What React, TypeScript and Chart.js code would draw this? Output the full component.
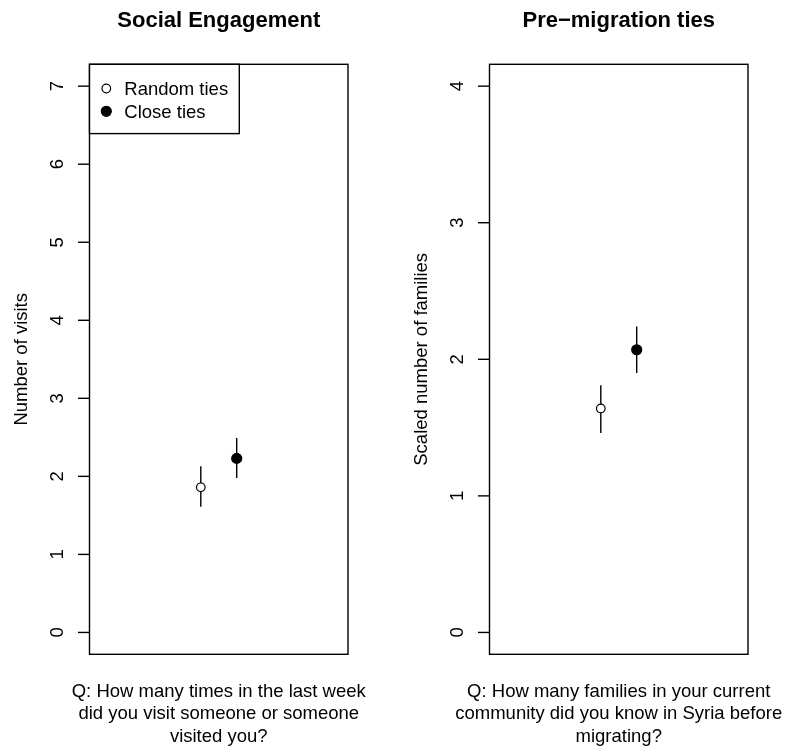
import React, { useEffect, useRef } from "react";
import { Chart, registerables } from "chart.js";

Chart.register(...registerables);

// ---------- data ----------
const SERIES = ["Random ties", "Close ties"];
const GROUP_X = [1, 2];

const ENG_MEAN = [1.86, 2.23];
const ENG_LOW = [1.61, 1.98];
const ENG_HIGH = [2.13, 2.49];
const ENG_TICKS = [0, 1, 2, 3, 4, 5, 6, 7];

const PRE_MEAN = [1.64, 2.07];
const PRE_LOW = [1.46, 1.9];
const PRE_HIGH = [1.81, 2.24];
const PRE_TICKS = [0, 1, 2, 3, 4];

const TITLES = ["Social Engagement", "Pre\u2212migration ties"];
const Y_TITLES = ["Number of visits", "Scaled number of families"];
const QUESTIONS = [
  ["Q: How many times in the last week", "did you visit someone or someone", "visited you?"],
  ["Q: How many families in your current", "community did you know in Syria before", "migrating?"],
];

// ---------- styling ----------
const FONT = '"Liberation Sans", Arial, Helvetica, sans-serif';
const BASE = 18.5;
const TITLE_SIZE = 22;
const LW = 1.4;
const FILLS = ["#ffffff", "#000000"];
const RADII = [4.3, 5];

type Panel = {
  title: string;
  yTitle: string;
  question: string[];
  mean: number[];
  low: number[];
  high: number[];
  ticks: number[];
  legend: boolean;
  width: number;
  left: number;
  padRight: number;
};

const PANELS: Panel[] = [
  {
    title: TITLES[0],
    yTitle: Y_TITLES[0],
    question: QUESTIONS[0],
    mean: ENG_MEAN,
    low: ENG_LOW,
    high: ENG_HIGH,
    ticks: ENG_TICKS,
    legend: true,
    width: 400,
    left: 0,
    padRight: 52,
  },
  {
    title: TITLES[1],
    yTitle: Y_TITLES[1],
    question: QUESTIONS[1],
    mean: PRE_MEAN,
    low: PRE_LOW,
    high: PRE_HIGH,
    ticks: PRE_TICKS,
    legend: false,
    width: 386,
    left: 400,
    padRight: 38,
  },
];

function drawMarker(ctx: CanvasRenderingContext2D, x: number, y: number, i: number) {
  ctx.save();
  ctx.beginPath();
  ctx.arc(x, y, RADII[i], 0, Math.PI * 2);
  ctx.fillStyle = FILLS[i];
  ctx.fill();
  ctx.lineWidth = 1.2;
  ctx.strokeStyle = "#000";
  ctx.stroke();
  ctx.restore();
}

function makePlugin(p: Panel) {
  return {
    id: "rpanel",
    beforeDatasetsDraw(chart: any) {
      const ctx: CanvasRenderingContext2D = chart.ctx;
      const xs = chart.scales.x;
      const ys = chart.scales.y;
      ctx.save();
      ctx.strokeStyle = "#000";
      ctx.lineWidth = LW;
      for (let i = 0; i < p.mean.length; i++) {
        const x = xs.getPixelForValue(GROUP_X[i]);
        ctx.beginPath();
        ctx.moveTo(x, ys.getPixelForValue(p.low[i]));
        ctx.lineTo(x, ys.getPixelForValue(p.high[i]));
        ctx.stroke();
      }
      ctx.restore();
    },
    afterDatasetsDraw(chart: any) {
      const ctx: CanvasRenderingContext2D = chart.ctx;
      const a = chart.chartArea;
      const ys = chart.scales.y;
      const cx = (a.left + a.right) / 2;
      const cy = (a.top + a.bottom) / 2;
      ctx.save();
      ctx.fillStyle = "#000";
      ctx.strokeStyle = "#000";
      ctx.lineWidth = LW;

      // plot box
      ctx.strokeRect(a.left, a.top, a.right - a.left, a.bottom - a.top);

      // y ticks + labels (rotated, like R las=0)
      ctx.font = `${BASE}px ${FONT}`;
      ctx.textAlign = "center";
      ctx.textBaseline = "alphabetic";
      for (const t of p.ticks) {
        const y = ys.getPixelForValue(t);
        ctx.beginPath();
        ctx.moveTo(a.left - 11.5, y);
        ctx.lineTo(a.left, y);
        ctx.stroke();
        ctx.save();
        ctx.translate(a.left - 26.8, y);
        ctx.rotate(-Math.PI / 2);
        ctx.fillText(String(t), 0, 0);
        ctx.restore();
      }

      // y axis title
      ctx.save();
      ctx.translate(a.left - 62.8, cy);
      ctx.rotate(-Math.PI / 2);
      ctx.fillText(p.yTitle, 0, 0);
      ctx.restore();

      // main title
      ctx.font = `bold ${TITLE_SIZE}px ${FONT}`;
      ctx.fillText(p.title, cx, 27.3);

      // question under the plot
      ctx.font = `${BASE}px ${FONT}`;
      p.question.forEach((line, k) => {
        ctx.fillText(line, cx, 697.3 + k * 22.1);
      });

      // legend
      if (p.legend) {
        const w = 149.8;
        const h = 69.3;
        ctx.lineWidth = LW;
        ctx.strokeStyle = "#000";
        ctx.fillStyle = "#fff";
        ctx.fillRect(a.left, a.top, w, h);
        ctx.strokeRect(a.left, a.top, w, h);
        ctx.textAlign = "left";
        ctx.fillStyle = "#000";
        chart.data.datasets.forEach((ds: any, i: number) => {
          const sy = a.top + 24.2 + i * 22.8;
          drawMarker(ctx, a.left + 16.8, sy, i);
          ctx.fillStyle = "#000";
          ctx.fillText(ds.label, a.left + 34.8, sy + 6.7);
        });
      }
      ctx.restore();
    },
  };
}

function PanelChart({ p }: { p: Panel }) {
  const ref = useRef<HTMLCanvasElement | null>(null);
  useEffect(() => {
    if (!ref.current) return;
    const tmin = Math.min(...p.ticks);
    const tmax = Math.max(...p.ticks);
    const ext = (tmax - tmin) * 0.04;
    const chart = new Chart(ref.current, {
      type: "scatter",
      data: {
        datasets: SERIES.map((name, i) => ({
          label: name,
          data: [{ x: GROUP_X[i], y: p.mean[i] }],
          pointRadius: RADII[i],
          pointHoverRadius: RADII[i],
          pointBackgroundColor: FILLS[i],
          pointBorderColor: "#000",
          pointBorderWidth: 1.2,
          showLine: false,
          clip: false,
        })),
      },
      options: {
        animation: false,
        responsive: false,
        devicePixelRatio: 1,
        events: [],
        layout: {
          padding: { left: 89.5, right: p.padRight, top: 64.3, bottom: 91.7 },
        },
        scales: {
          x: { type: "linear", display: false, min: -2.1, max: 5.1 },
          y: { type: "linear", display: false, min: tmin - ext, max: tmax + ext },
        },
        plugins: {
          legend: { display: false },
          tooltip: { enabled: false },
          title: { display: false },
        },
      },
      plugins: [makePlugin(p)],
    } as any);
    return () => chart.destroy();
  }, [p]);
  return (
    <canvas
      ref={ref}
      width={p.width}
      height={746}
      style={{
        position: "absolute",
        left: p.left,
        top: 0,
        width: p.width,
        height: 746,
        display: "block",
      }}
    />
  );
}

export default function App() {
  return (
    <div
      style={{
        position: "absolute",
        left: 0,
        top: 0,
        width: 786,
        height: 746,
        background: "#fff",
        overflow: "hidden",
      }}
    >
      {PANELS.map((p, i) => (
        <PanelChart key={i} p={p} />
      ))}
    </div>
  );
}
